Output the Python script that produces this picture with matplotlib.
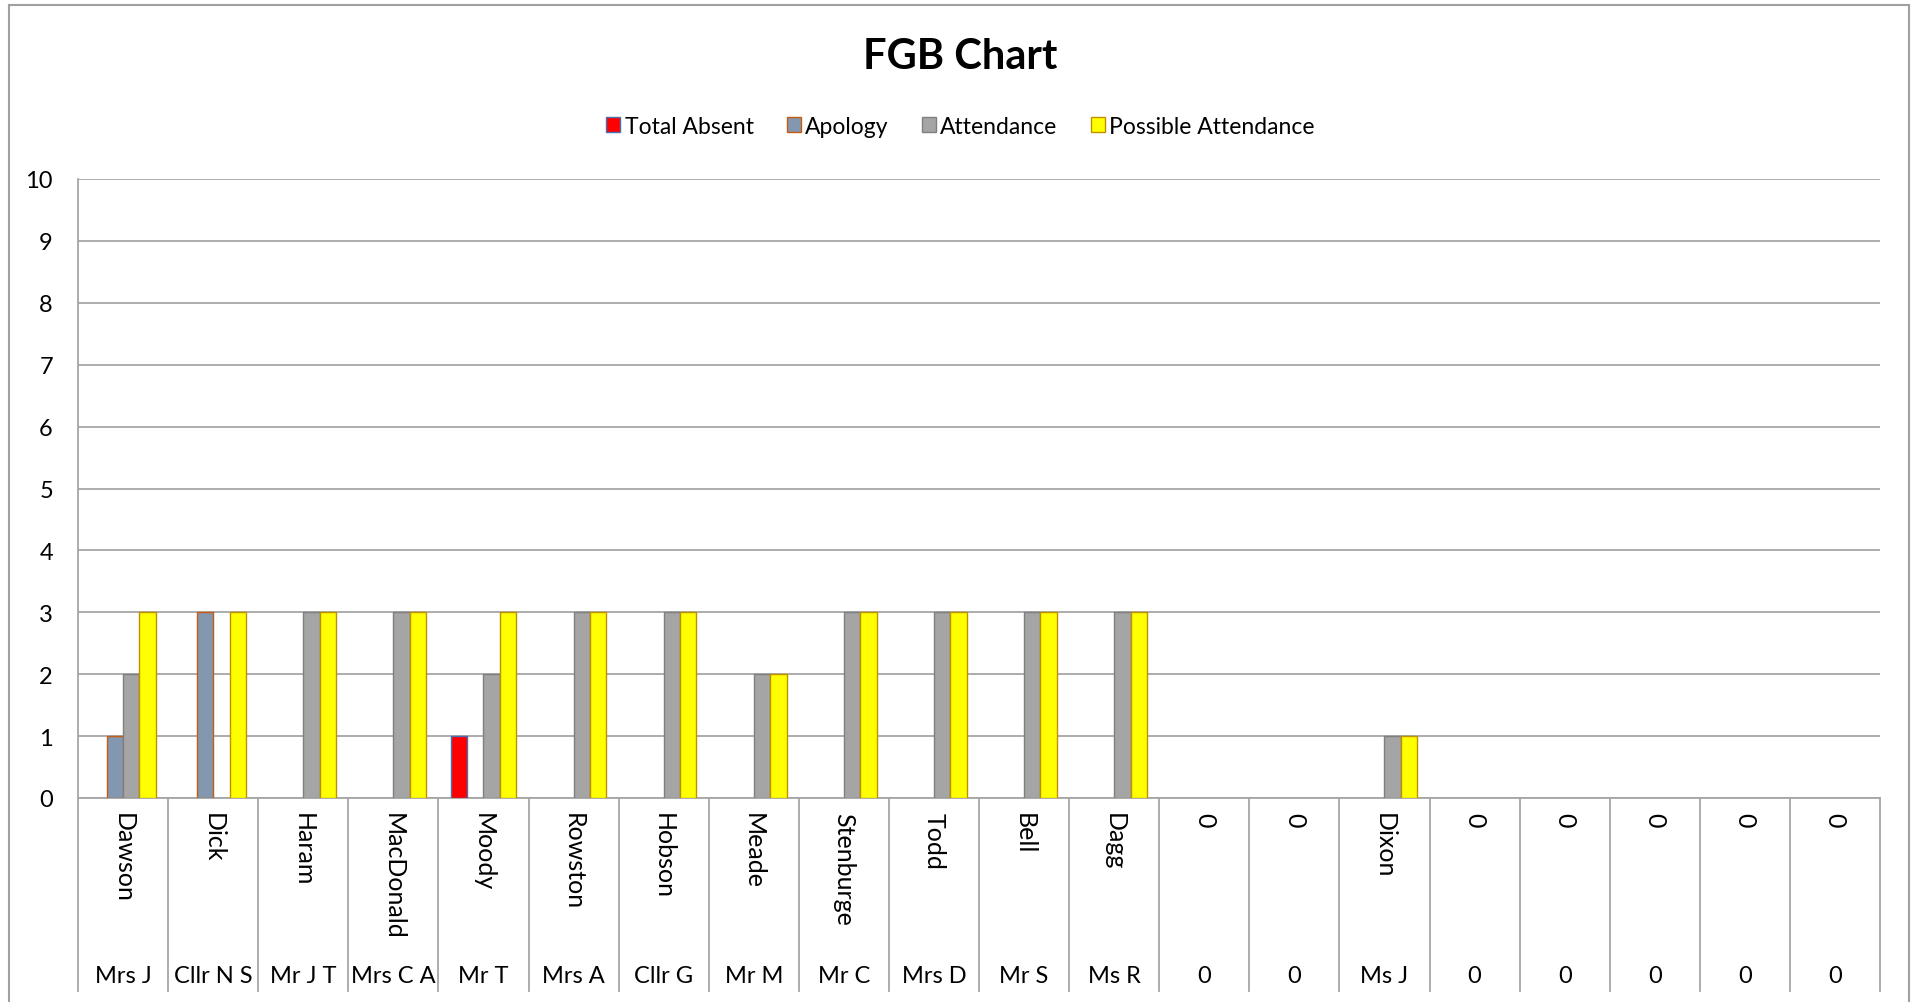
import numpy as np
import matplotlib.pyplot as plt
import matplotlib.transforms as mtransforms
from matplotlib.lines import Line2D
from matplotlib.patches import Patch

plt.rcParams['font.family'] = ['Lato', 'DejaVu Sans']

#%% data
surnames = ['Dawson', 'Dick', 'Haram', 'MacDonald', 'Moody', 'Rowston', 'Hobson', 'Meade',
            'Stenburge', 'Todd', 'Bell', 'Dagg', '0', '0', 'Dixon', '0', '0', '0', '0', '0']
titles = ['Mrs J', 'Cllr N S', 'Mr J T', 'Mrs C A', 'Mr T', 'Mrs A', 'Cllr G', 'Mr M',
          'Mr C', 'Mrs D', 'Mr S', 'Ms R', '0', '0', 'Ms J', '0', '0', '0', '0', '0']
total_absent = [0, 0, 0, 0, 1, 0, 0, 0, 0, 0, 0, 0, 0, 0, 0, 0, 0, 0, 0, 0]
apology = [1, 3, 0, 0, 0, 0, 0, 0, 0, 0, 0, 0, 0, 0, 0, 0, 0, 0, 0, 0]
attendance = [2, 0, 3, 3, 2, 3, 3, 2, 3, 3, 3, 3, 0, 0, 1, 0, 0, 0, 0, 0]
possible = [3, 3, 3, 3, 3, 3, 3, 2, 3, 3, 3, 3, 0, 0, 1, 0, 0, 0, 0, 0]

series = [('Total Absent', total_absent, '#ff0000', '#4a6eb0'),
          ('Apology', apology, '#8497b0', '#c55a11'),
          ('Attendance', attendance, '#a5a5a5', '#7f7f7f'),
          ('Possible Attendance', possible, '#ffff00', '#c09000')]

#%% figure
W, H = 1921, 1003
fig = plt.figure(figsize=(W / 100, H / 100), dpi=100)
ax = fig.add_axes([78 / W, 1 - 799 / H, (1880 - 78) / W, (799 - 180) / H])

grid_col = '#a6a6a6'
fs = 17
n = len(surnames)
x = np.arange(n)
w = 1 / 5.5
for k, (lab, vals, fc, ec) in enumerate(series):
    vals = np.array(vals)
    lw = [1.0 if v > 0 else 0 for v in vals]
    ax.bar(x + (k - 1.5) * w, vals, width=w, color=fc, edgecolor=ec, linewidth=lw,
           zorder=3, label=lab)

ax.set_xlim(-0.5, n - 0.5)
ax.set_ylim(0, 10)
ax.set_yticks(range(11))
ax.yaxis.grid(True, color=grid_col, linewidth=1.3, zorder=0)
ax.tick_params(axis='y', length=0, labelsize=fs, pad=18)
ax.set_xticks([])
for s in ['top', 'right']:
    ax.spines[s].set_visible(False)
for s in ['left', 'bottom']:
    ax.spines[s].set_color(grid_col)
    ax.spines[s].set_linewidth(1.3)

# category dividers and two-level labels
trans = mtransforms.blended_transform_factory(ax.transData, fig.transFigure)
for b in np.arange(n + 1) - 0.5:
    ax.add_line(Line2D([b, b], [1 - 799 / H, 1 - 992 / H], transform=trans,
                       color=grid_col, linewidth=1.3, clip_on=False))
for i in range(n):
    ax.text(i, 1 - 813 / H, surnames[i], transform=trans, rotation=270,
            ha='center', va='top', fontsize=fs + 1)
    ax.text(i, 1 - 977 / H, titles[i], transform=trans,
            ha='center', va='center', fontsize=fs)

# legend
handles = [Patch(facecolor=fc, edgecolor=ec, label=lab) for lab, _, fc, ec in series]
fig.legend(handles=handles, loc='center', bbox_to_anchor=(0.5, 1 - 127 / H), ncol=4,
           frameon=False, fontsize=16.5, handlelength=0.6, handleheight=0.6,
           handletextpad=0.2, columnspacing=1.45)

fig.text(0.5, 1 - 57 / H, 'FGB Chart', ha='center', va='center', fontsize=30,
         fontweight='bold')

# outer chart border
for xs, ys in [([9, 9], [6, H]), ([9, 1909], [6, 6]), ([1909, 1909], [6, H])]:
    fig.add_artist(Line2D([v / W for v in xs], [1 - v / H for v in ys],
                          color='#a0a0a0', linewidth=1.5))

fig.savefig('out.png', dpi=100)
